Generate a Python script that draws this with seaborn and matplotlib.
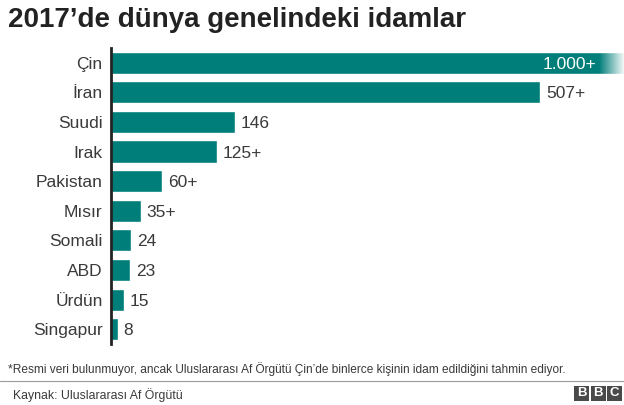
import numpy as np
import pandas as pd
import matplotlib
matplotlib.use("Agg")
import matplotlib.pyplot as plt
from matplotlib.patches import Rectangle
from matplotlib.lines import Line2D
import seaborn as sns

countries = ["Çin", "İran", "Suudi", "Irak", "Pakistan", "Mısır", "Somali", "ABD", "Ürdün", "Singapur"]
values = [1000, 507, 146, 125, 60, 35, 24, 23, 15, 8]
labels = ["1.000+", "507+", "146", "125+", "60+", "35+", "24", "23", "15", "8"]

title = "2017’de dünya genelindeki idamlar"
footnote = "*Resmi veri bulunmuyor, ancak Uluslararası Af Örgütü Çin’de binlerce kişinin idam edildiğini tahmin ediyor."
source = "Kaynak: Uluslararası Af Örgütü"

sns.set_theme(style="white")
plt.rcParams["font.family"] = ["Liberation Sans", "DejaVu Sans"]

TEAL = "#007e79"
TXT = "#3a3a3a"

df = pd.DataFrame({"country": countries, "value": values})

W, H = 624, 405
fig = plt.figure(figsize=(W / 100, H / 100), dpi=100)
ax = fig.add_axes([111 / W, 1 - 344 / H, 1 - 111 / W, 296 / H])

sns.barplot(data=df, y="country", x="value", color=TEAL, saturation=1,
            width=0.75, ax=ax, orient="h")

xmax = 606
ax.set_xlim(0, xmax)
ax.set_ylim(9.5, -0.5)

# fade on the clipped first bar
grad = np.linspace(0, 1, 256).reshape(1, -1)
cmap = matplotlib.colors.LinearSegmentedColormap.from_list(
    "fade", [(1, 1, 1, 0), (1, 1, 1, 1)])
ax.imshow(grad, cmap=cmap, aspect="auto", extent=[576, xmax, 0.376, -0.376],
          zorder=5, interpolation="bilinear")

for i, (v, lab) in enumerate(zip(values, labels)):
    if v > xmax:
        ax.text(573, i, lab, ha="right", va="center_baseline", color="white",
                fontsize=12.5, zorder=6)
    else:
        ax.text(v + 7, i, lab, ha="left", va="center_baseline", color=TXT,
                fontsize=12.5)

ax.set_xlabel("")
ax.set_ylabel("")
ax.set_xticks([])
ax.tick_params(axis="y", length=0, pad=6, labelsize=12.5, labelcolor=TXT)
for s in ["top", "right", "bottom"]:
    ax.spines[s].set_visible(False)
ax.spines["left"].set_color("#222222")
ax.spines["left"].set_linewidth(2)

fig.text(8 / W, 1 - 20 / H, title, fontsize=20, fontweight="bold",
         color="#222222", ha="left", va="center")
fig.text(8 / W, 1 - 369 / H, footnote, fontsize=8.6, color=TXT,
         ha="left", va="center")
fig.add_artist(Line2D([0, 1], [1 - 381 / H] * 2, transform=fig.transFigure,
                      color="#9a9a9a", lw=0.8))
fig.text(13 / W, 1 - 395 / H, source, fontsize=8.8, color=TXT,
         ha="left", va="center")

# BBC blocks
for k, letter in enumerate("BBC"):
    x0 = 574 + k * 16.5
    fig.add_artist(Rectangle((x0 / W, 1 - 401 / H), 15 / W, 15 / H,
                             transform=fig.transFigure, color="#4a4a4a", lw=0))
    fig.text((x0 + 7.5) / W, 1 - 393.5 / H, letter, color="white", fontsize=9.5,
             fontweight="bold", ha="center", va="center")

fig.savefig("out.png", dpi=100)
